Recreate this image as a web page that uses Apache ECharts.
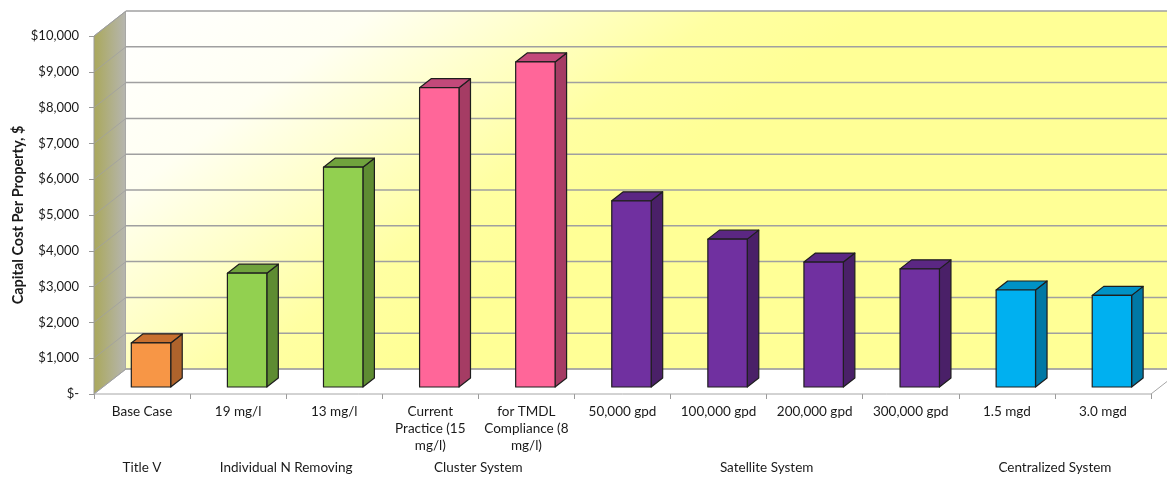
<!DOCTYPE html>
<html>
<head>
<meta charset="utf-8">
<script src="https://cdn.jsdelivr.net/npm/echarts@6/dist/echarts.min.js"></script>
<style>
  html, body { margin: 0; padding: 0; background: #fff; }
  #chart { width: 1167px; height: 477px; }
</style>
</head>
<body>
<div id="chart"></div>
<script>
// data
const categories = [
  'Base Case', '19 mg/l', '13 mg/l',
  'Current\nPractice (15\nmg/l)', 'for TMDL\nCompliance (8\nmg/l)',
  '50,000 gpd', '100,000 gpd', '200,000 gpd', '300,000 gpd',
  '1.5 mgd', '3.0 mgd'
];
const costs = [1230, 3180, 6140, 8360, 9080, 5200, 4130, 3490, 3300, 2710, 2560];
const groupNames = ['Title V', 'Individual N Removing', 'Cluster System', 'Satellite System', 'Centralized System'];
const groupOf = [0, 1, 1, 2, 2, 3, 3, 3, 3, 4, 4];
const yMax = 10000;
const yStep = 1000;

// look
const FONT = 'Lato';
const DX = 32, DY = -25;          // depth of the 3d box, px
const BAR_FRONT = 0.28;           // where the bar sits in the depth
const BAR_DEPTH = 0.36;
const BAR_WIDTH = 0.41;           // share of the category band
const palette = [
  { front: '#F79646', side: '#AE632C', top: '#C8702F' },
  { front: '#92D050', side: '#5E8C32', top: '#70A33D' },
  { front: '#FF6699', side: '#A53C64', top: '#C2497A' },
  { front: '#7030A0', side: '#4A2068', top: '#5B2783' },
  { front: '#00B0F0', side: '#0078A5', top: '#0092C6' }
];

const yTicks = [];
for (let v = 0; v <= yMax; v += yStep) yTicks.push(v);

const chart = echarts.init(document.getElementById('chart'));

function renderFrame(params, api) {
  const bw = api.size([1, 0])[0];
  const xl = api.coord([0, 0])[0] - bw / 2;
  const xr = api.coord([categories.length - 1, 0])[0] + bw / 2;
  const y0 = api.coord([0, 0])[1];
  const yTop = api.coord([0, yMax])[1];
  const children = [];

  children.push({
    type: 'polygon',
    shape: { points: [[xl, y0], [xl, yTop], [xl + DX, yTop + DY], [xl + DX, y0 + DY]] },
    style: {
      fill: { type: 'linear', x: 0, y: 0, x2: 1, y2: 0,
        colorStops: [{ offset: 0, color: '#aaa85a' }, { offset: 1, color: '#b6b6b2' }] },
      stroke: '#9a9a9a', lineWidth: 1
    }
  });
  children.push({
    type: 'rect',
    shape: { x: xl + DX, y: yTop + DY, width: xr - xl, height: y0 - yTop },
    style: {
      fill: { type: 'linear', x: 0, y: 0, x2: 0.25, y2: 1,
        colorStops: [
          { offset: 0, color: '#ffffff' },
          { offset: 0.33, color: '#fffff2' },
          { offset: 0.8, color: '#ffffa2' },
          { offset: 1, color: '#ffff96' }
        ] }
    }
  });
  children.push({
    type: 'polygon',
    shape: { points: [[xl, y0], [xr, y0], [xr + DX, y0 + DY], [xl + DX, y0 + DY]] },
    style: { fill: '#ffffff', stroke: '#a6a6a6', lineWidth: 1 }
  });
  yTicks.forEach(v => {
    const y = api.coord([0, v])[1];
    children.push({
      type: 'line',
      shape: { x1: xl + DX, y1: y + DY, x2: xr + DX, y2: y + DY },
      style: { stroke: '#a0a0a0', lineWidth: 1.5 }
    });
    children.push({
      type: 'line',
      shape: { x1: xl, y1: y, x2: xl + DX, y2: y + DY },
      style: { stroke: '#a0a0a0', lineWidth: 1, opacity: 0.8 }
    });
  });

  // group labels under the category labels
  groupNames.forEach((name, g) => {
    const idx = [];
    groupOf.forEach((gg, i) => { if (gg === g) idx.push(i); });
    const mid = (idx[0] + idx[idx.length - 1]) / 2;
    const x = api.coord([0, 0])[0] + mid * bw;
    children.push({
      type: 'text',
      style: {
        text: name, x: x, y: y0 + 74,
        align: 'center', verticalAlign: 'middle',
        font: '13.5px ' + FONT, fill: '#1a1a1a'
      }
    });
  });
  return { type: 'group', children: children };
}

function renderBar(params, api) {
  const i = api.value(0);
  const v = api.value(1);
  const c = palette[groupOf[i]];
  const bw = api.size([1, 0])[0];
  const base = api.coord([i, 0]);
  const topPt = api.coord([i, v]);
  const sx = BAR_FRONT * DX, sy = BAR_FRONT * DY;
  const ddx = BAR_DEPTH * DX, ddy = BAR_DEPTH * DY;
  const l = base[0] - bw * BAR_WIDTH / 2 + sx;
  const r = base[0] + bw * BAR_WIDTH / 2 + sx;
  const b = base[1] + sy;
  const t = topPt[1] + sy;
  const stroke = { stroke: '#1e1e1e', lineWidth: 1.2, lineJoin: 'round' };
  return {
    type: 'group',
    children: [
      { type: 'polygon', shape: { points: [[r, t], [r + ddx, t + ddy], [r + ddx, b + ddy], [r, b]] },
        style: Object.assign({ fill: c.side }, stroke) },
      { type: 'polygon', shape: { points: [[l, t], [l + ddx, t + ddy], [r + ddx, t + ddy], [r, t]] },
        style: Object.assign({ fill: c.top }, stroke) },
      { type: 'rect', shape: { x: l, y: t, width: r - l, height: b - t },
        style: Object.assign({ fill: c.front }, stroke) }
    ]
  };
}

const option = {
  animation: false,
  backgroundColor: '#fff',
  grid: { left: 94, right: 16, top: 36, bottom: 83, outerBoundsMode: 'none', containLabel: false },
  xAxis: {
    type: 'category',
    data: categories,
    axisLine: { show: false },
    axisTick: { show: true, length: 5, lineStyle: { color: '#9a9a9a' } },
    axisLabel: {
      interval: 0, margin: 9, color: '#1a1a1a',
      fontFamily: FONT, fontSize: 13.5, lineHeight: 17
    },
    splitLine: { show: false }
  },
  yAxis: {
    type: 'value',
    min: 0, max: yMax, interval: yStep,
    name: 'Capital Cost Per Property, $',
    nameLocation: 'middle', nameRotate: 90, nameGap: 68, nameMoveOverlap: false,
    nameTextStyle: { fontFamily: FONT, fontSize: 14.5, fontWeight: 'bold', color: '#1a1a1a' },
    axisLine: { show: false },
    axisTick: { show: true, length: 5, lineStyle: { color: '#9a9a9a' } },
    axisLabel: {
      margin: 15, color: '#1a1a1a', fontFamily: FONT, fontSize: 13,
      formatter: v => v === 0 ? '$-' : '$' + v.toLocaleString('en-US')
    },
    splitLine: { show: false }
  },
  series: [
    {
      type: 'custom', name: 'frame', silent: true, clip: false, z: 1,
      data: [[0, 0]],
      renderItem: renderFrame
    },
    {
      type: 'custom', name: 'cost', silent: true, clip: false, z: 3,
      data: costs.map((v, i) => [i, v]),
      renderItem: renderBar
    }
  ]
};

chart.setOption(option);
</script>
</body>
</html>
